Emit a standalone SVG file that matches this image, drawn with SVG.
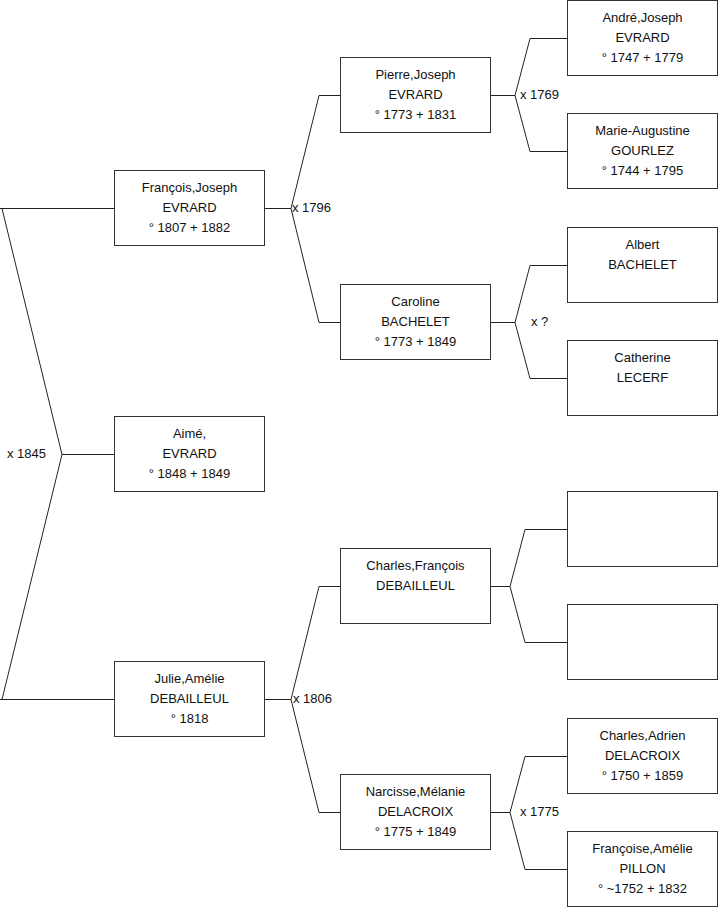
<svg xmlns="http://www.w3.org/2000/svg" width="719" height="908" viewBox="0 0 719 908">
<style>
.box{fill:#fff;stroke:#333;stroke-width:1}
.c{fill:none;stroke:#222;stroke-width:1}
text{font-family:"Liberation Sans",Arial,sans-serif;font-size:13px;fill:#111}
.n{text-anchor:middle}
</style>
<rect x="0" y="0" width="719" height="908" fill="#fff"/>
<g id="connectors">
<path class="c" d="M0,208.5H114.5 M0,699.5H114.5 M2,208.5L62,454.5L2,699.5 M62,454.5H114.5"/>
<path class="c" d="M265,208.5H291 M319,95.5L291,208.5L319,322.5 M319,95.5H340.5 M319,322.5H340.5"/>
<path class="c" d="M265,699.5H291 M319,586.5L291,699.5L319,812.5 M319,586.5H340.5 M319,812.5H340.5"/>
<path class="c" d="M491,95.5H515 M530,38.5L515,95.5L530,151.5 M530,38.5H567.5 M530,151.5H567.5"/>
<path class="c" d="M491,322.5H515 M530,265.5L515,322.5L530,378.5 M530,265.5H567.5 M530,378.5H567.5"/>
<path class="c" d="M491,586.5H510 M525,529.5L510,586.5L525,642.5 M525,529.5H567.5 M525,642.5H567.5"/>
<path class="c" d="M491,812.5H510 M525,756.5L510,812.5L525,869.5 M525,756.5H567.5 M525,869.5H567.5"/>
<text x="7" y="458">x 1845</text>
<text x="292" y="212">x 1796</text>
<text x="293" y="703">x 1806</text>
<text x="520" y="99">x 1769</text>
<text x="531" y="326">x ?</text>
<text x="520" y="816">x 1775</text>
</g>
<g id="francois"><rect class="box" x="114.5" y="170.5" width="150" height="75"/>
<text class="n" x="189.5" y="191.5">François,Joseph</text><text class="n" x="189.5" y="211.5">EVRARD</text><text class="n" x="189.5" y="231.5">° 1807 + 1882</text></g>
<g id="aime"><rect class="box" x="114.5" y="416.5" width="150" height="75"/>
<text class="n" x="189.5" y="437.5">Aimé,</text><text class="n" x="189.5" y="457.5">EVRARD</text><text class="n" x="189.5" y="477.5">° 1848 + 1849</text></g>
<g id="julie"><rect class="box" x="114.5" y="661.5" width="150" height="75"/>
<text class="n" x="189.5" y="682.5">Julie,Amélie</text><text class="n" x="189.5" y="702.5">DEBAILLEUL</text><text class="n" x="189.5" y="722.5">° 1818</text></g>
<g id="pierre"><rect class="box" x="340.5" y="57.5" width="150" height="75"/>
<text class="n" x="415.5" y="78.5">Pierre,Joseph</text><text class="n" x="415.5" y="98.5">EVRARD</text><text class="n" x="415.5" y="118.5">° 1773 + 1831</text></g>
<g id="caroline"><rect class="box" x="340.5" y="284.5" width="150" height="75"/>
<text class="n" x="415.5" y="305.5">Caroline</text><text class="n" x="415.5" y="325.5">BACHELET</text><text class="n" x="415.5" y="345.5">° 1773 + 1849</text></g>
<g id="charlesfrancois"><rect class="box" x="340.5" y="548.5" width="150" height="75"/>
<text class="n" x="415.5" y="569.5">Charles,François</text><text class="n" x="415.5" y="589.5">DEBAILLEUL</text></g>
<g id="narcisse"><rect class="box" x="340.5" y="774.5" width="150" height="75"/>
<text class="n" x="415.5" y="795.5">Narcisse,Mélanie</text><text class="n" x="415.5" y="815.5">DELACROIX</text><text class="n" x="415.5" y="835.5">° 1775 + 1849</text></g>
<g id="andre"><rect class="box" x="567.5" y="0.5" width="150" height="75"/>
<text class="n" x="642.5" y="21.5">André,Joseph</text><text class="n" x="642.5" y="41.5">EVRARD</text><text class="n" x="642.5" y="61.5">° 1747 + 1779</text></g>
<g id="marie"><rect class="box" x="567.5" y="113.5" width="150" height="75"/>
<text class="n" x="642.5" y="134.5">Marie-Augustine</text><text class="n" x="642.5" y="154.5">GOURLEZ</text><text class="n" x="642.5" y="174.5">° 1744 + 1795</text></g>
<g id="albert"><rect class="box" x="567.5" y="227.5" width="150" height="75"/>
<text class="n" x="642.5" y="248.5">Albert</text><text class="n" x="642.5" y="268.5">BACHELET</text></g>
<g id="catherine"><rect class="box" x="567.5" y="340.5" width="150" height="75"/>
<text class="n" x="642.5" y="361.5">Catherine</text><text class="n" x="642.5" y="381.5">LECERF</text></g>
<g id="empty1"><rect class="box" x="567.5" y="491.5" width="150" height="75"/></g>
<g id="empty2"><rect class="box" x="567.5" y="604.5" width="150" height="75"/></g>
<g id="charlesadrien"><rect class="box" x="567.5" y="718.5" width="150" height="75"/>
<text class="n" x="642.5" y="739.5">Charles,Adrien</text><text class="n" x="642.5" y="759.5">DELACROIX</text><text class="n" x="642.5" y="779.5">° 1750 + 1859</text></g>
<g id="francoise"><rect class="box" x="567.5" y="831.5" width="150" height="75"/>
<text class="n" x="642.5" y="852.5">Françoise,Amélie</text><text class="n" x="642.5" y="872.5">PILLON</text><text class="n" x="642.5" y="892.5">° ~1752 + 1832</text></g>
</svg>
